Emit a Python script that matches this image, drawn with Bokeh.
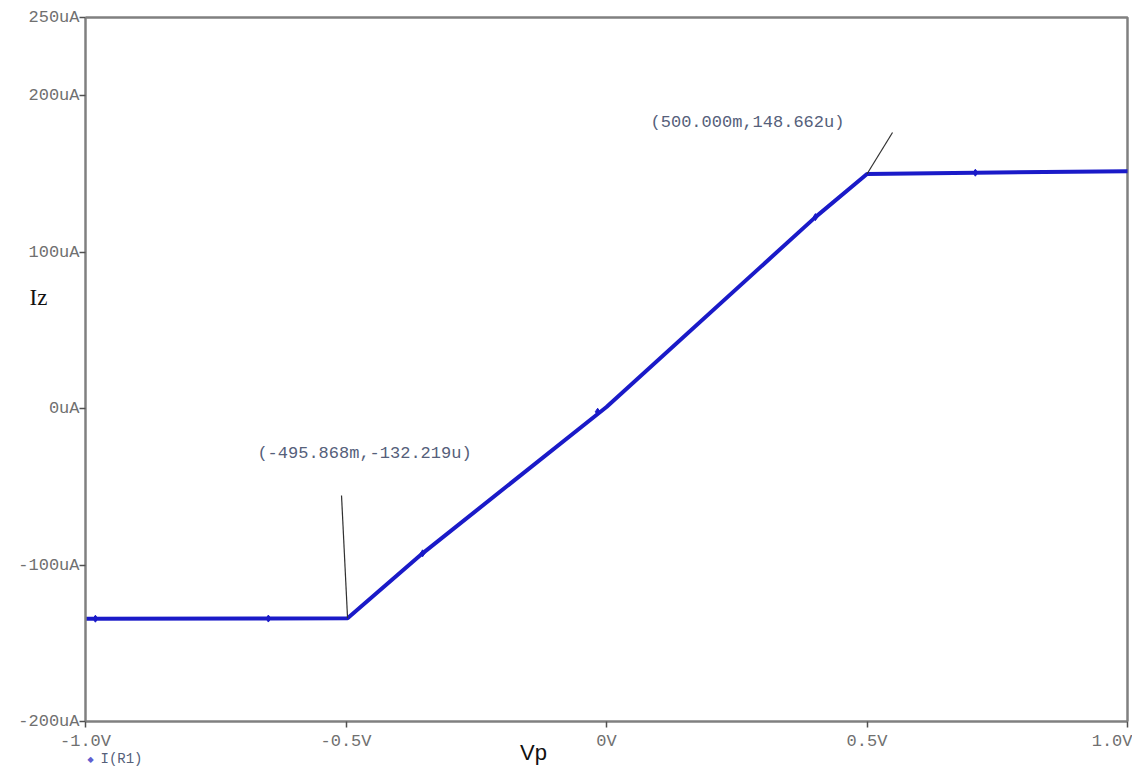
from bokeh.plotting import figure
from bokeh.models import Range1d, FixedTicker, Label, ColumnDataSource
from bokeh.embed import file_html
from bokeh.resources import INLINE

# ---- data (Vp in volts, Iz in microamps) ----
vp = [-1.0, -0.65, -0.497, -0.353, 0.0, 0.401, 0.5, 0.708, 1.0]
iz = [-134.3, -134.2, -134.0, -92.5, 1.0, 122.4, 150.0, 150.8, 151.8]
marker_vp = [-0.981, -0.649, -0.353, -0.017, 0.401, 0.708]
marker_iz = [-134.3, -134.2, -92.5, -2.0, 122.4, 150.8]
x_ticks = [-1.0, -0.5, 0.0, 0.5, 1.0]
x_tick_labels = ["-1.0V", "-0.5V", "0V", "0.5V", "1.0V"]
y_ticks = [-200, -100, 0, 100, 200, 250]
y_tick_labels = ["-200uA", "-100uA", "0uA", "100uA", "200uA", "250uA"]
cursor_points_vp = [0.5, -0.497]
cursor_points_iz = [150.0, -134.0]
cursor_texts = ["(500.000m,148.662u)", "(-495.868m,-132.219u)"]
series_name = "I(R1)"
x_label = "Vp"
y_label = "Iz"

# ---- layout (pixels) ----
W, H = 1132, 767
BOX_L, BOX_R, BOX_T, BOX_B = 85, 1127, 17, 721
x0, x1 = x_ticks[0], x_ticks[-1]
y0, y1 = y_ticks[0], y_ticks[-1]
pxv = (BOX_R - BOX_L) / (x1 - x0)
pyu = (BOX_B - BOX_T) / (y1 - y0)
xr = Range1d(x0 - BOX_L / pxv, x1 + (W - BOX_R) / pxv)
yr = Range1d(y0 - (H - BOX_B) / pyu, y1 + BOX_T / pyu)

MONO = "Liberation Mono"
BLUE = "#1a1ac8"
GRAY = "#808080"

p = figure(width=W, height=H, output_backend="svg", toolbar_location=None,
           x_range=xr, y_range=yr, min_border=0)
p.background_fill_color = "white"
p.border_fill_color = "white"
p.outline_line_color = None
p.xgrid.visible = False
p.ygrid.visible = False

p.xaxis.fixed_location = y0
p.yaxis.fixed_location = x0
p.xaxis.bounds = (x0, x1)
p.yaxis.bounds = (y0, y1)
for ax in (p.xaxis[0], p.yaxis[0]):
    ax.axis_line_color = GRAY
    ax.axis_line_width = 2.5
    ax.major_tick_line_color = "#505050"
    ax.major_tick_line_width = 1.5
    ax.major_tick_out = 6
    ax.major_tick_in = 0
    ax.minor_tick_line_color = None
    ax.major_label_text_font = MONO
    ax.major_label_text_font_size = "17px"
    ax.major_label_text_color = "#707070"

p.xaxis.ticker = FixedTicker(ticks=x_ticks)
p.xaxis.major_label_overrides = {t: l for t, l in zip(x_ticks, x_tick_labels)}
p.xaxis.major_label_standoff = 4
p.yaxis.ticker = FixedTicker(ticks=y_ticks)
p.yaxis.major_label_overrides = {t: l for t, l in zip(y_ticks, y_tick_labels)}
p.yaxis.major_label_standoff = 0

# plot box (top and right edges)
p.line([x0, x1, x1], [y1, y1, y0], line_color=GRAY, line_width=2.5)

src = ColumnDataSource(dict(x=vp, y=iz))
p.line("x", "y", source=src, line_color=BLUE, line_width=4)
msrc = ColumnDataSource(dict(x=marker_vp, y=marker_iz))
p.scatter("x", "y", source=msrc, marker="diamond", size=7, color=BLUE)

# cursor annotations (pointer from data point toward label)
offsets = [(0.049, 26.5), (-0.0116, 78.5)]
text_pos = [(0.2706, 182.9), (-0.4645, -28.7)]
for (cx, cy), txt, (dx, dy), (tx, ty) in zip(zip(cursor_points_vp, cursor_points_iz),
                                              cursor_texts, offsets, text_pos):
    p.line([cx, cx + dx], [cy, cy + dy], line_color="#303030", line_width=1.2)
    p.add_layout(Label(x=tx, y=ty, text=txt, text_font=MONO, text_font_size="17px",
                       text_color="#55607a", text_align="center", text_baseline="middle"))

# axis titles
p.add_layout(Label(x=-1.0902, y=71.0, text=y_label, text_font="Liberation Serif",
                   text_font_size="23px", text_color="#111111",
                   text_align="center", text_baseline="middle"))
p.add_layout(Label(x=-0.1401, y=-219.8, text=x_label, text_font="Liberation Sans",
                   text_font_size="22px", text_color="#111111",
                   text_align="center", text_baseline="middle"))

# legend
p.add_layout(Label(x=-0.9904, y=-224.0, text="\u25c6", text_font="DejaVu Sans",
                   text_font_size="8px", text_color="#6060d0",
                   text_align="center", text_baseline="middle"))
p.add_layout(Label(x=-0.9712, y=-224.0, text=series_name, text_font=MONO,
                   text_font_size="14px", text_color="#55607a",
                   text_align="left", text_baseline="middle"))

open("out.html", "w").write(file_html(p, INLINE))
